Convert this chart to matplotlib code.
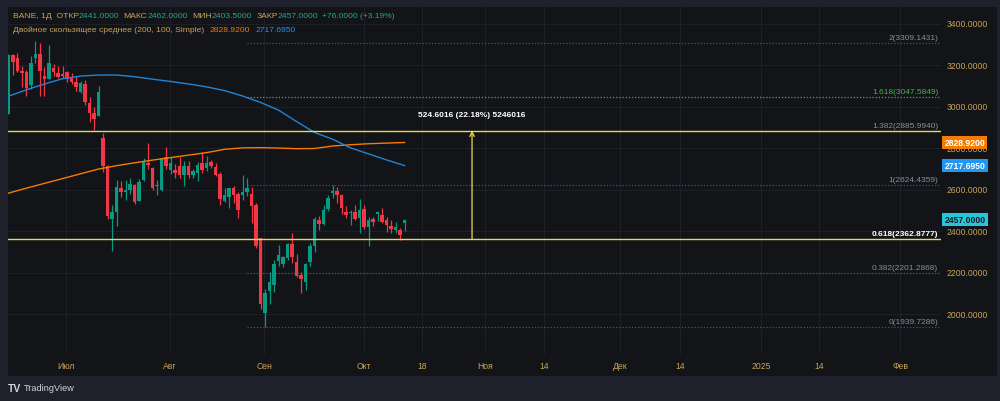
import numpy as np
import matplotlib.pyplot as plt
from matplotlib.patches import Rectangle
import matplotlib.transforms as mtransforms

plt.rcParams['font.family'] = ['Liberation Sans', 'DejaVu Sans']

# BANE, 1D candles (mid June -> 11 Oct 2024)
opens = [2968, 3252, 3236, 3173, 3169, 3107, 3238, 3254, 3148, 3136,
         3188, 3165, 3160, 3170, 3138, 3122, 3071, 3111, 3019, 2971,
         2958, 2849, 2717, 2460, 2495, 2608, 2589, 2600, 2626, 2547,
         2648, 2730, 2705, 2621, 2600, 2759, 2698, 2698, 2714, 2674,
         2716, 2674, 2683, 2731, 2704, 2733, 2709, 2677, 2549, 2565,
         2608, 2581, 2576, 2589, 2581, 2529, 2367, 2007, 2115, 2144,
         2259, 2243, 2271, 2340, 2252, 2190, 2155, 2252, 2329, 2457,
         2436, 2508, 2586, 2594, 2577, 2493, 2488, 2493, 2464, 2508,
         2420, 2460, 2484, 2481, 2455, 2428, 2407, 2407, 2441]
highs = [3256, 3256, 3260, 3199, 3178, 3247, 3317, 3307, 3191, 3299,
         3206, 3196, 3196, 3172, 3162, 3151, 3125, 3129, 3047, 2999,
         3101, 2873, 2720, 2528, 2648, 2642, 2648, 2656, 2630, 2653,
         2753, 2827, 2710, 2650, 2756, 2806, 2758, 2725, 2761, 2738,
         2738, 2700, 2733, 2785, 2762, 2745, 2730, 2685, 2608, 2612,
         2618, 2590, 2672, 2656, 2616, 2535, 2370, 2125, 2203, 2264,
         2335, 2280, 2345, 2393, 2292, 2203, 2250, 2345, 2471, 2473,
         2528, 2577, 2626, 2613, 2580, 2521, 2505, 2529, 2557, 2528,
         2471, 2471, 2500, 2512, 2471, 2457, 2444, 2415, 2462]
lows = [2966, 3156, 3170, 3098, 3054, 3087, 3212, 3054, 3051, 3134,
        3148, 3140, 3140, 3122, 3110, 3079, 3066, 3011, 2929, 2891,
        2956, 2685, 2460, 2307, 2425, 2565, 2553, 2581, 2533, 2545,
        2645, 2701, 2600, 2577, 2596, 2701, 2677, 2658, 2660, 2621,
        2660, 2660, 2642, 2680, 2690, 2705, 2666, 2529, 2541, 2513,
        2537, 2465, 2552, 2570, 2441, 2320, 2027, 1938, 2051, 2110,
        2235, 2230, 2265, 2248, 2179, 2102, 2120, 2232, 2303, 2409,
        2430, 2500, 2560, 2536, 2483, 2464, 2433, 2455, 2393, 2410,
        2329, 2425, 2449, 2440, 2399, 2391, 2391, 2359, 2403.5]
closes = [3252, 3218, 3172, 3165, 3092, 3212, 3257, 3173, 3136, 3210,
          3167, 3143, 3150, 3135, 3119, 3098, 3114, 3023, 2973, 2941,
          3074, 2717, 2476, 2495, 2614, 2589, 2598, 2629, 2544, 2640,
          2733, 2720, 2608, 2626, 2753, 2717, 2729, 2682, 2674, 2716,
          2674, 2693, 2720, 2696, 2730, 2714, 2674, 2557, 2576, 2608,
          2577, 2504, 2589, 2608, 2524, 2329, 2051, 2104, 2155, 2243,
          2287, 2276, 2340, 2276, 2187, 2171, 2243, 2329, 2460, 2436,
          2505, 2561, 2595, 2576, 2512, 2481, 2496, 2460, 2502, 2423,
          2455, 2447, 2492, 2447, 2431, 2412, 2420, 2381, 2457]

# double SMA (200, 100), read every 4th bar
ma_bars = [0, 4, 8, 12, 16, 20, 24, 28, 32, 36, 40, 44,
           48, 52, 56, 60, 64, 68, 72, 76, 80, 84, 88]
sma200 = [2585, 2609, 2632, 2655, 2678, 2701, 2717, 2731, 2744, 2756, 2768, 2780,
          2796, 2803, 2804, 2802, 2799, 2800, 2812, 2818, 2823, 2826, 2828.92]
sma100 = [3052, 3083, 3111, 3136, 3149, 3154, 3154, 3146, 3134, 3123, 3111, 3097,
          3079, 3053, 3022, 2985, 2930, 2877, 2845, 2803, 2774, 2745, 2717.695]

fib_ratios = ["0", "0.382", "0.618", "1", "1.382", "1.618", "2"]
fib_prices = [1939.7286, 2201.2868, 2362.8777, 2624.4359, 2885.9940, 3047.5849, 3309.1431]

price_ticks = [2000, 2200, 2400, 2600, 2800, 3000, 3200, 3400]
time_labels = ["Июл", "Авг", "Сен", "Окт", "18", "Ноя", "14", "Дек", "14", "2025", "14", "Фев"]
time_pos = [12.8, 35.8, 56.8, 78.9, 91.9, 105.9, 119, 135.9, 149.3, 167.2, 180.2, 198.2]

# colours
FRAME = '#1e212b'
PANEL = '#121418'
GRID = '#1d2027'
GOLD = '#c9a459'
TEAL = '#22a891'
UP = '#089981'
DOWN = '#f23645'
YELLOW = '#ecd94f'

W, H = 1000, 402
fig = plt.figure(figsize=(W / 100, H / 100), dpi=100)
fig.patch.set_facecolor(FRAME)


def fx(px):
    return px / W


def fy(py):
    return 1 - py / H


fig.patches.append(Rectangle((fx(8), fy(377)), fx(997) - fx(8), fy(8) - fy(377),
                             transform=fig.transFigure, facecolor=PANEL, edgecolor='none', zorder=-5))

ax = fig.add_axes([fx(8), fy(355), fx(941) - fx(8), fy(8) - fy(355)])
ax.set_facecolor('none')
for s in ax.spines.values():
    s.set_visible(False)
ax.set_xlim(-0.11, 207.2)
ax.set_ylim(1809.6, 3481.9)
ax.set_xticks([])
ax.set_yticks([])

# grid
for p in price_ticks:
    ax.axhline(p, color=GRID, lw=0.8, zorder=1)
for t in time_pos:
    ax.axvline(t, color=GRID, lw=0.8, zorder=1)

# candles
x = np.arange(len(opens))
o = np.array(opens, dtype=float)
c = np.array(closes, dtype=float)
hi = np.array(highs, dtype=float)
lo = np.array(lows, dtype=float)
cols = np.where(c >= o, UP, DOWN)
ax.vlines(x, lo, hi, colors=cols, lw=0.9, zorder=3)
body_h = np.maximum(np.abs(c - o), 4)
ax.bar(x, body_h, bottom=np.minimum(o, c), width=0.74, color=cols, zorder=4)

# moving averages
ax.plot(ma_bars, sma200, color='#f57c00', lw=1.0, zorder=5)
ax.plot(ma_bars, sma100, color='#2184d8', lw=1.0, zorder=5)

# fib extension levels
fib_start = 53
x_end = 207.2
lab_x = (938 - 8.5) / 4.5
for r, p in zip(fib_ratios, fib_prices):
    if r in ("0.618", "1.382"):
        ax.axhline(p, color=YELLOW, lw=1.0, zorder=6)
    else:
        col = '#4caf50' if r == "1.618" else '#50535e'
        ax.hlines(p, fib_start, x_end, colors=col, lw=0.9, linestyles=(0, (1, 1.5)), zorder=2)
    if r == "0.618":
        tcol, fw = 'white', 'bold'
    elif r == "1.618":
        tcol, fw = '#4caf50', 'normal'
    else:
        tcol, fw = '#8a8d96', 'normal'
    ax.annotate(f"{r}({p:.4f})", xy=(lab_x, p), xytext=(0, 1.5), textcoords='offset points',
                ha='right', va='bottom', color=tcol, fontsize=6, fontweight=fw, zorder=7)

# measure arrow
arrow_bar = 103
ax.annotate('', xy=(arrow_bar, fib_prices[4]), xytext=(arrow_bar, fib_prices[2]),
            arrowprops=dict(arrowstyle='->', color=YELLOW, lw=0.9, mutation_scale=8,
                            shrinkA=0, shrinkB=0), zorder=7)
ax.annotate("524.6016 (22.18%) 5246016", xy=(arrow_bar, fib_prices[4]), xytext=(0, 9),
            textcoords='offset points', ha='center', va='bottom', color='white',
            fontsize=6, fontweight='bold', zorder=7)

# price axis
tr = mtransforms.blended_transform_factory(fig.transFigure, ax.transData)
for p in price_ticks:
    ax.text(fx(947), p, f"{p:.4f}", transform=tr, color=GOLD, fontsize=6.2,
            ha='left', va='center', clip_on=False)

tags = [(sma200[-1], '#f57c00', 'white'), (sma100[-1], '#2196f3', 'white'),
        (closes[-1], '#26c6da', '#131722')]
for val, bg, fg in tags:
    ax.text(fx(944.5), val, f"{val:.4f}", transform=tr, color=fg, fontsize=6.2, fontweight='bold',
            ha='left', va='center', clip_on=False, zorder=10,
            bbox=dict(boxstyle='square,pad=0.25', facecolor=bg, edgecolor='none'))

# time axis
ttr = mtransforms.blended_transform_factory(ax.transData, fig.transFigure)
for t, lab in zip(time_pos, time_labels):
    ax.text(t, fy(367), lab, transform=ttr, color=GOLD, fontsize=6.2,
            ha='center', va='center', clip_on=False)


# legend rows: coloured pieces chained one after another
def legend_row(parts, x0, y0):
    prev = fig.text(fx(x0), fy(y0), parts[0][0], color=parts[0][1], fontsize=6.1,
                    ha='left', va='center')
    for s, col, gap in parts[1:]:
        prev = ax.annotate(s, xy=(1, 0), xycoords=prev, xytext=(gap, 0),
                           textcoords='offset points', color=col, fontsize=6.1,
                           ha='left', va='bottom', annotation_clip=False, zorder=10)


legend_row([("BANE, 1Д  ОТКР", GOLD, 0), ("2441.0000", TEAL, 0), ("МАКС", GOLD, 3),
            ("2462.0000", TEAL, 0), ("МИН", GOLD, 3), ("2403.5000", TEAL, 0),
            ("ЗАКР", GOLD, 3), ("2457.0000", TEAL, 0), ("+76.0000 (+3.19%)", TEAL, 3)], 12.7, 16.7)
legend_row([("Двойное скользящее среднее (200, 100, Simple)", GOLD, 0),
            ("2828.9200", '#f57c00', 4), ("2717.6950", '#2196f3', 4)], 12.7, 29.9)

# footer logo
fig.text(fx(8), fy(389), "TV", color='#d1d4dc', fontsize=7.5, fontweight='bold', ha='left', va='center')
fig.text(fx(24), fy(389), "TradingView", color='#d1d4dc', fontsize=6.6, ha='left', va='center')

fig.savefig('out.png', dpi=100, facecolor=FRAME)
